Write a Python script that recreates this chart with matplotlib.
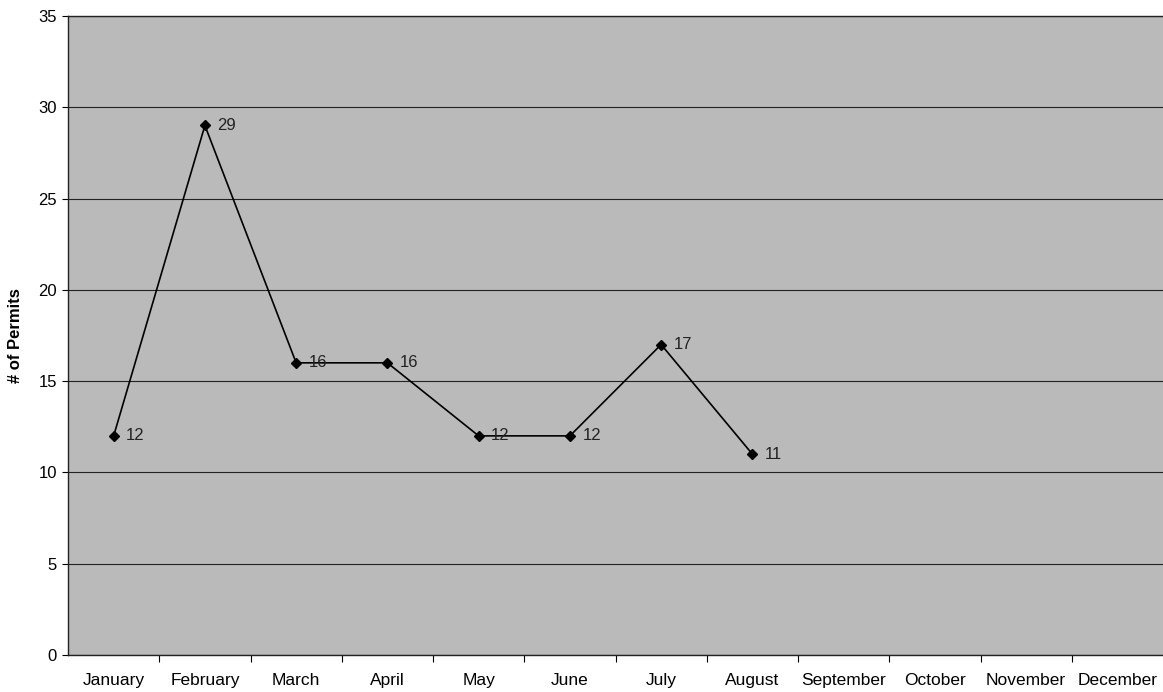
import matplotlib
matplotlib.use('Agg')
import matplotlib.pyplot as plt
from matplotlib.ticker import FixedLocator

# Data
months = ['January', 'February', 'March', 'April', 'May', 'June', 'July',
          'August', 'September', 'October', 'November', 'December']
permits = [12, 29, 16, 16, 12, 12, 17, 11]

plt.rcParams['font.family'] = ['Liberation Sans', 'DejaVu Sans']

fig = plt.figure(figsize=(11.63, 6.92), dpi=100)
ax = fig.add_axes([0.0585, 0.0535, 0.9415, 0.9235])

ax.set_facecolor('#bababa')
fig.patch.set_facecolor('white')

x = list(range(len(permits)))
ax.plot(x, permits, color='black', linewidth=1.2, marker='D', markersize=5,
        markerfacecolor='black', markeredgecolor='black', zorder=3)

for xi, v in zip(x, permits):
    ax.annotate(str(v), (xi, v), xytext=(9, 0), textcoords='offset points',
                ha='left', va='center', fontsize=12, color='#222222', zorder=4)

ax.set_xlim(-0.5, len(months) - 0.5)
ax.set_ylim(0, 35)
ax.set_yticks(range(0, 36, 5))
ax.tick_params(axis='y', labelsize=12, length=4, width=0.8, pad=4)
ax.yaxis.grid(True, color='#222222', linewidth=0.8)
ax.set_axisbelow(True)

# Month labels centred, ticks between categories
ax.set_xticks(range(len(months)))
ax.set_xticklabels(months, fontsize=12.5)
ax.tick_params(axis='x', which='major', length=0, pad=13)
ax.xaxis.set_minor_locator(FixedLocator([i + 0.5 for i in range(len(months) - 1)]))
ax.tick_params(axis='x', which='minor', length=5, width=0.8)

ax.set_ylabel('# of Permits', fontsize=12, fontweight='bold')
ax.yaxis.set_label_coords(-0.041, 0.5)

ax.spines['right'].set_visible(False)
for side in ['top', 'left', 'bottom']:
    ax.spines[side].set_linewidth(1.0)
    ax.spines[side].set_color('#222222')

fig.savefig('out.png', dpi=100)
plt.close(fig)
